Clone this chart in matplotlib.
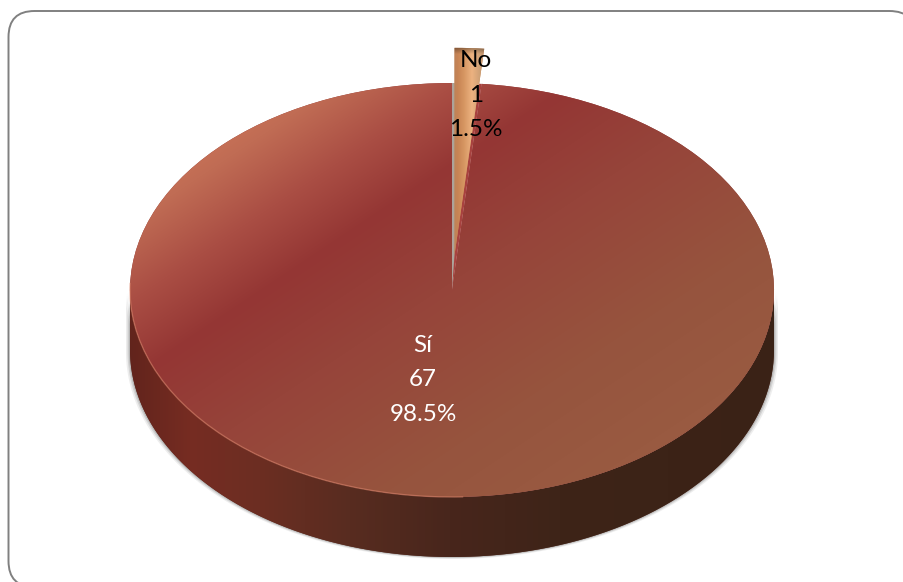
import numpy as np
import matplotlib
matplotlib.use("Agg")
import matplotlib.pyplot as plt
from matplotlib.patches import FancyBboxPatch, PathPatch, Wedge, Arc
from matplotlib.path import Path
from matplotlib.transforms import Affine2D

categories = ["No", "Sí"]
counts = [1, 67]
percent_labels = ["1.5%", "98.5%"]
explode = [0.17, 0]

W, H = 904, 582
CX, CY, RX, RY, DEPTH = 452, 290, 322, 207, 60

fig = plt.figure(figsize=(W / 100, H / 100), dpi=100, facecolor="white")
ax = fig.add_axes([0, 0, 1, 1])
wedges, _ = ax.pie(counts, startangle=90, counterclock=False, explode=explode,
                   colors=["#c88a5a", "#8f3a38"], wedgeprops=dict(linewidth=0))
ax.set_aspect("auto")
xl = (-CX / RX, (W - CX) / RX)
yl = ((CY - H) / RY, CY / RY)


def ramp(t, stops, cols):
    t = np.asarray(t)
    return np.stack([np.interp(t, stops, [c[i] / 255 for c in cols]) for i in range(3)], -1)


def image(rgb, z, clip):
    im = ax.imshow(rgb, extent=(*xl, *yl), origin="upper", aspect="auto",
                   zorder=z, interpolation="bilinear")
    im.set_clip_path(clip)
    return im


px, py = np.meshgrid(np.arange(W) + .5, np.arange(H) + .5)

# frame (runs off the right and bottom edges of the picture)
frame = FancyBboxPatch((8.5, 11), 907, 576, boxstyle="round,pad=0,rounding_size=26",
                       transform=Affine2D().scale(1, -1).translate(0, H),
                       fc="white", ec="#808080", lw=1.4, zorder=0)
fig.add_artist(frame)
ax.patch.set_visible(False)

# side wall outline
t = np.linspace(0, np.pi, 200)
wx = np.r_[np.cos(t), np.cos(t[::-1])]
wy = np.r_[np.sin(-t), np.sin(-t[::-1]) - DEPTH / RY]

# soft shadow around the wall
for grow, alpha in ((4, 0.10), (2.5, 0.16), (1.2, 0.22)):
    ax.add_patch(PathPatch(Path(np.c_[wx * (1 + grow / RX), wy - grow * 0.5 / RY]),
                           transform=ax.transData, fc="#555555", alpha=alpha, lw=0, zorder=0.9))

wall = PathPatch(Path(np.c_[wx, wy]), transform=ax.transData, fc="#5a2c20", lw=0, zorder=1)
ax.add_patch(wall)
wall_rgb = ramp(px, [130, 190, 260, 350, 450, 560, 775],
                [(98, 36, 28), (118, 44, 34), (108, 46, 34), (88, 44, 32),
                 (72, 38, 28), (62, 36, 24), (58, 34, 22)])
image(wall_rgb, 1.1, wall)

# top face
yes_w, no_w = wedges[1], wedges[0]
yes_w.set_zorder(2)
top_rgb = ramp(px * 0.8 + py * 1.2, [300, 372, 465, 560, 700, 900, 1100],
               [(208, 120, 90), (192, 108, 84), (170, 78, 68), (148, 54, 52),
                (150, 68, 58), (150, 84, 62), (154, 92, 66)])
image(top_rgb, 2.1, yes_w)

# light rim along the front edge of the top face
ax.add_patch(Arc((0, 0), 2, 2, theta1=178, theta2=272, ec=(0.86, 0.52, 0.42, 0.55),
                 lw=1.0, zorder=2.15))

# notch left by the pulled-out slice
theta1, theta2 = no_w.theta1, no_w.theta2
mid = (theta1 + theta2) / 2
ax.add_patch(Wedge((0, 0), 1, theta1, theta2, fc="#a8423f", lw=0, zorder=2.2))
ax.add_patch(Wedge((0, 0), 1, mid, theta2, fc="#aca39a", lw=0, zorder=2.3))

# pulled-out slice
no_w.set_zorder(3)
no_rgb = ramp(px, [454, 458, 464, 472, 480, 486],
              [(188, 130, 90), (200, 132, 84), (214, 150, 98), (236, 178, 128),
               (206, 160, 118), (190, 140, 104)])
shade = np.clip((py - 47) / 7, 0, 1)[..., None]
no_rgb = no_rgb * (0.62 + 0.38 * shade)
image(no_rgb, 3.1, no_w)

ax.set_xlim(xl)
ax.set_ylim(yl)
ax.axis("off")

# labels
font = ["Lato", "DejaVu Sans"]
centers = [(476, 95), (423, 380)]
tones = ["black", "white"]
for name, n, pct, (lx, ly), c in zip(categories, counts, percent_labels, centers, tones):
    ax.text((lx - CX) / RX, (CY - ly) / RY, f"{name}\n{n}\n{pct}", ha="center", va="center",
            color=c, fontsize=17.5, family=font, linespacing=1.77, zorder=6)

fig.savefig("out.png", dpi=100)
